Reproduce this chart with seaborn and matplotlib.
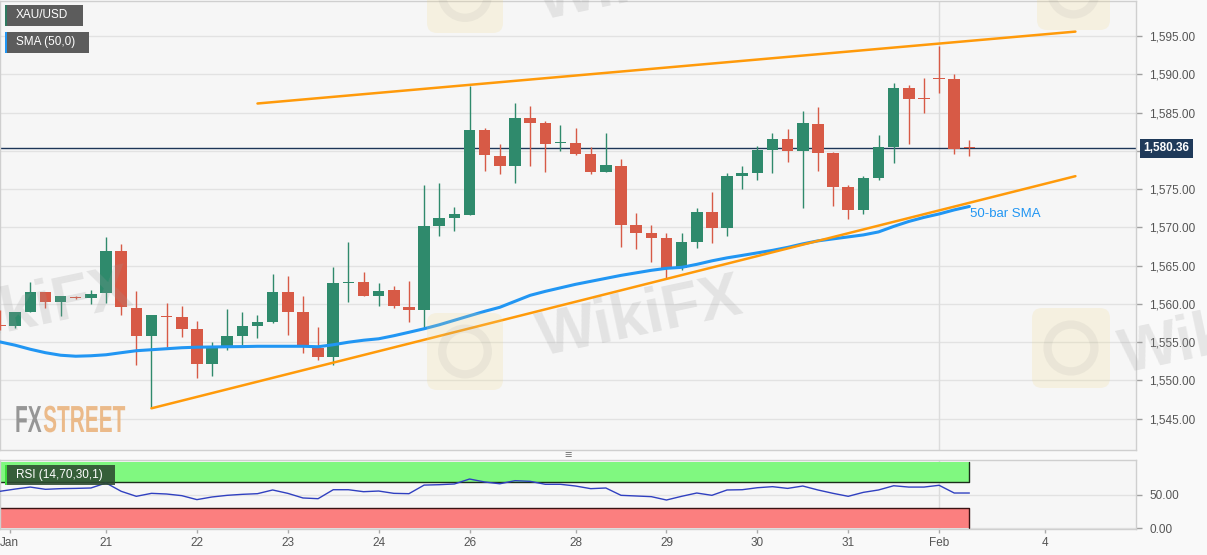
import numpy as np
import pandas as pd
import matplotlib
matplotlib.use("Agg")
import matplotlib.pyplot as plt
import matplotlib.transforms as mtransforms
from matplotlib.patches import Rectangle, FancyBboxPatch, Circle, PathPatch
from matplotlib.textpath import TextPath
from matplotlib.font_manager import FontProperties
import seaborn as sns

# XAU/USD 4H candles, 20 Jan - 3 Feb
opens = [1557.30, 1557.08, 1558.90, 1561.51, 1560.21, 1560.93, 1560.73, 1561.38, 1566.87, 1559.43,
         1555.77, 1558.45, 1558.25, 1556.68, 1552.12, 1554.34, 1555.77, 1557.08, 1557.60, 1561.51,
         1558.90, 1554.21, 1553.03, 1562.70, 1562.82, 1560.99, 1561.78, 1559.56, 1559.17, 1570.13,
         1571.21, 1571.57, 1582.79, 1579.40, 1578.09, 1584.36, 1583.71, 1581.03, 1581.10, 1579.66,
         1577.22, 1578.09, 1570.26, 1569.22, 1568.56, 1564.65, 1568.04, 1571.96, 1569.87, 1576.66,
         1577.09, 1580.18, 1581.62, 1580.05, 1583.58, 1579.79, 1575.22, 1572.22, 1576.40, 1580.57,
         1588.28, 1586.91, 1589.58, 1589.45, 1580.40]
highs = [1559.20, 1558.90, 1562.82, 1561.51, 1560.99, 1561.05, 1561.78, 1568.69, 1567.78, 1561.64,
         1558.51, 1560.08, 1559.69, 1557.73, 1554.99, 1559.30, 1558.90, 1558.51, 1563.86, 1563.60,
         1560.99, 1556.94, 1564.78, 1568.04, 1564.12, 1562.69, 1562.30, 1562.95, 1575.48, 1575.87,
         1572.61, 1588.54, 1583.05, 1580.97, 1586.32, 1585.93, 1583.97, 1583.45, 1583.05, 1580.57,
         1582.40, 1578.88, 1571.83, 1570.26, 1569.22, 1569.22, 1572.48, 1574.57, 1577.05, 1578.09,
         1580.61, 1582.40, 1582.92, 1585.27, 1585.80, 1579.92, 1575.61, 1576.66, 1582.14, 1588.93,
         1588.67, 1589.58, 1593.76, 1590.10, 1581.49]
lows = [1556.55, 1556.81, 1558.90, 1559.43, 1558.38, 1560.60, 1559.95, 1560.08, 1558.51, 1551.98,
        1546.37, 1554.34, 1555.64, 1550.29, 1550.55, 1553.95, 1554.60, 1555.51, 1557.47, 1555.90,
        1553.55, 1552.64, 1551.98, 1560.21, 1560.99, 1559.69, 1559.43, 1557.60, 1556.81, 1568.83,
        1569.48, 1571.57, 1577.31, 1576.92, 1575.87, 1578.09, 1577.18, 1580.05, 1579.53, 1576.92,
        1577.18, 1567.39, 1567.13, 1565.43, 1563.34, 1564.39, 1567.26, 1567.91, 1568.83, 1574.96,
        1576.14, 1577.05, 1578.49, 1572.48, 1577.31, 1572.74, 1571.04, 1571.70, 1576.14, 1578.36,
        1580.97, 1585.01, 1587.62, 1579.66, 1579.40]
closes = [1557.10, 1558.90, 1561.51, 1560.21, 1560.99, 1560.73, 1561.25, 1566.87, 1559.56, 1555.77,
          1558.51, 1558.32, 1556.68, 1552.12, 1554.34, 1555.77, 1557.08, 1557.60, 1561.51, 1558.90,
          1554.34, 1553.03, 1562.69, 1562.82, 1560.99, 1561.64, 1559.69, 1559.17, 1570.13, 1571.17,
          1571.70, 1582.79, 1579.53, 1578.09, 1584.36, 1583.71, 1580.97, 1581.16, 1579.66, 1577.18,
          1578.19, 1570.26, 1569.22, 1568.56, 1564.65, 1568.04, 1571.96, 1569.87, 1576.66, 1577.05,
          1580.14, 1581.62, 1580.05, 1583.71, 1579.79, 1575.22, 1572.22, 1576.40, 1580.57, 1588.28,
          1586.84, 1586.78, 1589.45, 1580.31, 1580.36]
sma50 = [1555.03, 1554.60, 1554.07, 1553.62, 1553.29, 1553.16, 1553.22, 1553.35, 1553.62, 1553.88,
         1554.01, 1554.14, 1554.27, 1554.34, 1554.37, 1554.40, 1554.42, 1554.46, 1554.46, 1554.46,
         1554.46, 1554.40, 1554.66, 1554.99, 1555.25, 1555.44, 1555.84, 1556.29, 1556.75, 1557.27,
         1557.86, 1558.45, 1559.03, 1559.56, 1560.34, 1561.12, 1561.64, 1562.10, 1562.56, 1562.95,
         1563.34, 1563.73, 1564.06, 1564.39, 1564.65, 1564.78, 1565.17, 1565.63, 1566.02, 1566.34,
         1566.67, 1567.00, 1567.39, 1567.85, 1568.24, 1568.50, 1568.76, 1569.02, 1569.41, 1570.13,
         1570.78, 1571.31, 1571.76, 1572.29, 1572.74]
rsi14 = [55.6, 59.0, 62.0, 58.6, 59.6, 60.0, 60.6, 68.2, 55.6, 48.0,
         52.5, 51.5, 49.0, 43.0, 47.0, 49.5, 51.0, 52.0, 57.6, 52.5,
         45.5, 44.4, 58.0, 58.0, 55.0, 56.0, 52.5, 52.0, 65.0, 65.6,
         66.7, 74.2, 69.7, 67.0, 71.7, 70.7, 66.2, 66.2, 63.6, 59.6,
         60.6, 49.5, 48.5, 47.5, 42.4, 48.0, 53.0, 49.5, 57.6, 58.0,
         61.0, 62.6, 60.0, 63.6, 57.6, 52.5, 48.0, 54.0, 57.6, 64.0,
         62.0, 62.0, 64.7, 53.0, 53.0]

date_ticks = [0.65, 7, 13, 19, 25, 31, 38, 44, 50, 56, 62, 69]
date_labels = ["Jan", "21", "22", "23", "24", "26", "28", "29", "30", "31", "Feb", "4"]
price_ticks = [1545, 1550, 1555, 1560, 1565, 1570, 1575, 1580, 1585, 1590, 1595]
rsi_ticks = [0, 50]
month_start_bar = 62

# hand-drawn channel lines (bar index, price)
upper_trend_x = [17, 71]
upper_trend_y = [1586.2, 1595.6]
lower_trend_x = [10, 71]
lower_trend_y = [1546.35, 1576.7]

last_price = 1580.36
rsi_overbought = 70
rsi_oversold = 30

df = pd.DataFrame({"open": opens, "high": highs, "low": lows, "close": closes,
                   "sma": sma50, "rsi": rsi14})
df["bar"] = np.arange(len(df))

GREEN = "#2f8a6c"
RED = "#d75a46"
BLUE = "#2196f3"
ORANGE = "#ff9a0a"
df["color"] = np.where(df["close"] >= df["open"], GREEN, RED)

sns.set_theme(style="white")
plt.rcParams["font.family"] = ["Liberation Sans", "DejaVu Sans"]

W, H = 1207, 555


def fx(x):
    return x / W


def fy(y):
    return 1 - y / H


fig = plt.figure(figsize=(W / 100, H / 100), dpi=100, facecolor="#f9f9f9")
ax = fig.add_axes([0, fy(450), fx(1136), 449 / H], facecolor="#f6f6f6")
ax_rsi = fig.add_axes([0, fy(529), fx(1136), 69 / H], facecolor="#f6f6f6")

# --- price pane ---
body_low = df[["open", "close"]].min(axis=1)
body_h = (df["close"] - df["open"]).abs().clip(lower=0.13)
ax.vlines(df["bar"], df["low"], df["high"], colors=df["color"], lw=1, zorder=3)
ax.bar(df["bar"], body_h, bottom=body_low, width=0.76, color=df["color"], lw=0, zorder=4)

sns.lineplot(data=df, x="bar", y="sma", ax=ax, color=BLUE, lw=2.2, zorder=5)
ax.plot(upper_trend_x, upper_trend_y, color=ORANGE, lw=1.8, zorder=6)
ax.plot(lower_trend_x, lower_trend_y, color=ORANGE, lw=1.8, zorder=6)
ax.axhline(last_price, color="#1d3658", lw=1, zorder=2)
ax.axvline(month_start_bar, color="#dcdcdc", lw=1, zorder=0.6)

ax.text(df["bar"].iloc[-1] + 0.05, 1571.8, "50-bar SMA", color=BLUE, fontsize=9.5,
        ha="left", va="center", zorder=7)

trans = mtransforms.blended_transform_factory(ax.transAxes, ax.transData)
ax.text(1 + 7.5 / 1136, last_price, f"{last_price:,.2f}", transform=trans, ha="left", va="center",
        color="white", fontsize=8.5, fontweight="bold", clip_on=False, zorder=10,
        bbox=dict(boxstyle="square,pad=0.3", fc="#1f3a5a", ec="none"))

ax.set_xlim(0, 75)
ax.set_ylim(1540.9, 1599.6)
ax.set_xticks([])
ax.set_yticks(price_ticks)
# the 1,580 label sits under the last-price tag
ax.set_yticklabels(["" if v == 1580 else f"{v:,.2f}" for v in price_ticks])
ax.yaxis.tick_right()
ax.tick_params(axis="y", right=True, left=False, length=4.5, width=1, color="#a0a0a0",
               labelsize=8.5, labelcolor="#555555", pad=5)
ax.grid(True, axis="y", color="#e2e2e2", lw=1)
ax.set_axisbelow(True)
ax.set_xlabel("")
ax.set_ylabel("")

# --- RSI pane ---
ax_rsi.fill_between(df["bar"], rsi_overbought, 100, color="#80f880", lw=0, zorder=1)
ax_rsi.fill_between(df["bar"], 0, rsi_oversold, color="#fb7f7f", lw=0, zorder=1)
last_bar = df["bar"].iloc[-1]
ax_rsi.plot([0, last_bar, last_bar], [rsi_overbought, rsi_overbought, 100], color="#1b2e1b", lw=1, zorder=2)
ax_rsi.plot([0, last_bar, last_bar], [rsi_oversold, rsi_oversold, 0], color="#3a1414", lw=1, zorder=2)
sns.lineplot(data=df, x="bar", y="rsi", ax=ax_rsi, color="#3040c0", lw=1, zorder=3)
ax_rsi.axvline(month_start_bar, color="#dcdcdc", lw=1, zorder=0.6)

ax_rsi.set_xlim(0, 75)
ax_rsi.set_ylim(-1.5, 103)
ax_rsi.set_xticks(date_ticks)
ax_rsi.set_xticklabels(date_labels)
ax_rsi.set_yticks(rsi_ticks)
ax_rsi.set_yticklabels([f"{v:.2f}" for v in rsi_ticks])
ax_rsi.yaxis.tick_right()
ax_rsi.tick_params(axis="y", right=True, left=False, length=4.5, width=1, color="#a0a0a0",
                   labelsize=8.5, labelcolor="#555555", pad=5)
ax_rsi.tick_params(axis="x", bottom=True, length=3, width=1, color="#aaaaaa",
                   labelsize=8.5, labelcolor="#555555", pad=3)
ax_rsi.grid(True, axis="y", color="#e2e2e2", lw=1)
ax_rsi.set_axisbelow(True)
ax_rsi.set_xlabel("")
ax_rsi.set_ylabel("")

for a in (ax, ax_rsi):
    for s in a.spines.values():
        s.set_color("#cfcfcf")
        s.set_linewidth(1)

# pane divider handle
fig.text(fx(568), fy(456), "≡", ha="center", va="center", color="#777777", fontsize=9)


# legend tags
def tag(x0, y0, x1, y1, fc, stripe, label, alpha=1.0):
    fig.add_artist(Rectangle((fx(x0), fy(y1)), (x1 - x0) / W, (y1 - y0) / H,
                             transform=fig.transFigure, fc=fc, ec="none", alpha=alpha, zorder=20))
    fig.add_artist(Rectangle((fx(x0), fy(y1)), 2 / W, (y1 - y0) / H,
                             transform=fig.transFigure, fc=stripe, ec="none", zorder=21))
    fig.text(fx(x0 + 11), fy((y0 + y1) / 2), label, color="white", fontsize=8.5,
             ha="left", va="center", zorder=22)


tag(5, 5, 83, 26, "#5c5c5c", "#2f7a60", "XAU/USD")
tag(5, 32, 89, 53, "#5c5c5c", BLUE, "SMA (50,0)")
tag(5, 465, 115, 485, "#2c4a30", "#3ddc3d", "RSI (14,70,30,1)", alpha=0.88)

# watermarks
pix = mtransforms.IdentityTransform()
for x0, y0, w, h in [(427, 313, 76, 77), (427, -43, 76, 76), (1032, 308, 78, 80), (1037, -45, 73, 75)]:
    fig.add_artist(FancyBboxPatch((x0, H - y0 - h), w, h, boxstyle="round,pad=0,rounding_size=10",
                                  transform=pix, fc="#f1d98a", ec="none", alpha=0.2, zorder=14))
    fig.add_artist(Circle((x0 + w / 2, H - y0 - h / 2), w * 0.3, transform=pix,
                          fc="none", ec="#8a8a8a", lw=6, alpha=0.1, zorder=14))
for cx, cy in [(640, 318), (30, 310), (1222, 335), (640, -18)]:
    fig.text(fx(cx), fy(cy), "WikiFX", fontsize=45, fontweight="bold", color="#9a9a9a",
             alpha=0.2, rotation=12, ha="center", va="center", rotation_mode="anchor", zorder=15)

# condensed FXSTREET logo
logo_font = FontProperties(family="Liberation Sans", weight="bold")
fx_path = TextPath((0, 0), "FX", size=37.7, prop=logo_font)
st_path = TextPath((fx_path.get_extents().x1 + 3, 0), "STREET", size=37.7, prop=logo_font)
logo_tf = mtransforms.Affine2D().scale(0.553, 1.0).translate(15, H - 432)
fig.add_artist(PathPatch(fx_path, transform=logo_tf, fc="#8c8c8c", ec="none", alpha=0.9, zorder=16))
fig.add_artist(PathPatch(st_path, transform=logo_tf, fc="#eab47e", ec="none", alpha=0.9, zorder=16))

fig.savefig("out.png", dpi=100, facecolor=fig.get_facecolor())
